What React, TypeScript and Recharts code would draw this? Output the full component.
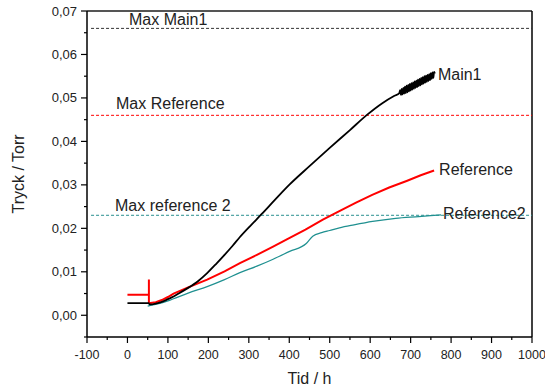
import React from 'react';
import { LineChart, Line, XAxis, YAxis, ReferenceLine, Label } from 'recharts';

// ---------- data ----------
const main1Hours = [
  0, 20, 40, 52, 55, 70, 85, 100, 114, 130, 150, 175, 197, 220, 240, 260, 278, 305, 332, 365, 401, 450, 500,
  550, 592, 630, 660, 672, 674, 676, 678, 680, 682, 684, 686, 688, 690, 692, 694, 696, 698, 700, 702, 704,
  706, 708, 710, 712, 714, 716, 718, 720, 722, 724, 726, 728, 730, 732, 734, 736, 738, 740, 742, 744, 746,
  748, 750, 752, 754, 756, 758, 760,
];
const main1Torr = [
  0.0028, 0.0028, 0.0028, 0.0028, 0.0025, 0.0027, 0.0031, 0.0037, 0.0043, 0.0052, 0.0063, 0.0079, 0.0097,
  0.0119, 0.0139, 0.016, 0.018, 0.0207, 0.0233, 0.0266, 0.0301, 0.0343, 0.0385, 0.0426, 0.0461, 0.0488,
  0.0505, 0.0511, 0.0518, 0.0507, 0.0521, 0.0508, 0.0523, 0.051, 0.0526, 0.0511, 0.0528, 0.0513, 0.053,
  0.0515, 0.0532, 0.0517, 0.0534, 0.0519, 0.0536, 0.0521, 0.0538, 0.0523, 0.054, 0.0525, 0.0542, 0.0527,
  0.0544, 0.0529, 0.0546, 0.0531, 0.0548, 0.0533, 0.055, 0.0535, 0.0551, 0.0537, 0.0553, 0.0539, 0.0555,
  0.0541, 0.0557, 0.0544, 0.0559, 0.0546, 0.056, 0.0556,
];

const refHours = [0, 53, 53, 53, 57, 70, 85, 100, 114, 150, 197, 240, 278, 320, 360, 401, 440, 483, 525, 565, 605, 647, 690, 725, 758];
const refTorr = [
  0.0047, 0.0047, 0.0082, 0.0029, 0.0028, 0.003, 0.0035, 0.0042, 0.005, 0.0064, 0.0082, 0.0101, 0.012, 0.0139,
  0.0158, 0.0178, 0.0197, 0.022, 0.024, 0.0259, 0.0277, 0.0294, 0.0309, 0.0322, 0.0333,
];

const ref2Hours = [50, 60, 80, 100, 114, 150, 197, 240, 278, 320, 360, 401, 442, 458, 480, 500, 524, 560, 606, 663, 720, 775];
const ref2Torr = [
  0.0021, 0.0023, 0.0027, 0.0033, 0.0038, 0.0051, 0.0066, 0.0082, 0.0098, 0.0113, 0.0129, 0.0147, 0.0165,
  0.0182, 0.019, 0.0195, 0.0201, 0.0208, 0.0216, 0.0223, 0.0227, 0.0231,
];

const maxHours = [-90, 1000];
const maxMain1 = 0.066;
const maxReference = 0.046;
const maxReference2 = 0.023;

const xTicks = [-100, -50, 0, 50, 100, 150, 200, 250, 300, 350, 400, 450, 500, 550, 600, 650, 700, 750, 800, 850, 900, 950, 1000];
const yTicks = [-0.005, 0, 0.005, 0.01, 0.015, 0.02, 0.025, 0.03, 0.035, 0.04, 0.045, 0.05, 0.055, 0.06, 0.065, 0.07];

// ---------- build series ----------
const toSeries = (hours: number[], vals: number[]) => hours.map((t, i) => ({ t, v: vals[i] }));
const main1Data = toSeries(main1Hours, main1Torr);
const refData = toSeries(refHours, refTorr);
const ref2Data = toSeries(ref2Hours, ref2Torr);
const maxMain1Data = maxHours.map((t) => ({ t, v: maxMain1 }));
const maxRefData = maxHours.map((t) => ({ t, v: maxReference }));
const maxRef2Data = maxHours.map((t) => ({ t, v: maxReference2 }));

// ---------- styling ----------
const FONT = '"Liberation Sans", Arial, Helvetica, sans-serif';
const W = 545;
const H = 389;
const Y_AXIS_W = 87;
const X_AXIS_H = 52;
const MARGIN = { top: 11, right: 13, bottom: 0, left: 0 };
const PLOT_LEFT = MARGIN.left + Y_AXIS_W;
const PLOT_BOTTOM = H - MARGIN.bottom - X_AXIS_H;
const TEAL = '#1f9090';
const RED = '#ff0000';

const YTick = (props: any) => {
  const { y, payload } = props;
  const v = payload.value as number;
  const k = Math.round(v * 200);
  const major = k % 2 === 0 && k >= 0;
  return (
    <g>
      <line x1={PLOT_LEFT - (major ? 6 : 3)} x2={PLOT_LEFT} y1={y} y2={y} stroke="#000" strokeWidth={1.2} />
      {major && (
        <text x={PLOT_LEFT - 10} y={y} dy="0.35em" textAnchor="end" fontSize={13} fontFamily={FONT} fill="#222">
          {v.toFixed(2).replace('.', ',')}
        </text>
      )}
    </g>
  );
};

const XTick = (props: any) => {
  const { x, payload } = props;
  const v = payload.value as number;
  const major = Math.round(v) % 100 === 0;
  return (
    <g>
      <line x1={x} x2={x} y1={PLOT_BOTTOM} y2={PLOT_BOTTOM + (major ? 6 : 3)} stroke="#000" strokeWidth={1.2} />
      {major && (
        <text x={x} y={PLOT_BOTTOM + 22} textAnchor="middle" fontSize={12.5} fontFamily={FONT} fill="#222">
          {String(v)}
        </text>
      )}
    </g>
  );
};

const pointLabel = (text: string, index: number, dx: number, dy: number) => (props: any) => {
  if (props.index !== index) return null;
  return (
    <text x={props.x + dx} y={props.y + dy} fontSize={16} fontFamily={FONT} fill="#222">
      {text}
    </text>
  );
};

export default function App() {
  return (
    <div style={{ position: 'absolute', left: 0, top: 0 }}>
      <LineChart width={W} height={H} margin={MARGIN}>
        <XAxis
          type="number"
          dataKey="t"
          domain={[-100, 1000]}
          ticks={xTicks}
          interval={0}
          allowDataOverflow
          height={X_AXIS_H}
          tickLine={false}
          axisLine={{ stroke: '#000', strokeWidth: 1.5 }}
          tick={(p: any) => <XTick {...p} />}
        >
          <Label value="Tid / h" position="insideBottom" offset={5} fontSize={16} fontFamily={FONT} fill="#222" />
        </XAxis>
        <YAxis
          type="number"
          dataKey="v"
          domain={[-0.005, 0.07]}
          ticks={yTicks}
          interval={0}
          allowDataOverflow
          width={Y_AXIS_W}
          tickLine={false}
          axisLine={{ stroke: '#000', strokeWidth: 1.5 }}
          tick={(p: any) => <YTick {...p} />}
        >
          <Label
            content={() => (
              <text transform="rotate(-90)" x={-(MARGIN.top + PLOT_BOTTOM) / 2} y={24} textAnchor="middle" fontSize={16} fontFamily={FONT} fill="#222">
                Tryck / Torr
              </text>
            )}
          />
        </YAxis>
        <ReferenceLine y={0.07} stroke="#555" strokeWidth={2} />
        <ReferenceLine x={1000} stroke="#000" strokeWidth={1.5} />

        <Line data={maxMain1Data} dataKey="v" stroke="#333" strokeWidth={1} strokeDasharray="3 2" dot={false} activeDot={false} isAnimationActive={false} label={pointLabel('Max Main1', 0, 38, -3)} />
        <Line data={maxRefData} dataKey="v" stroke="#ff0000" strokeWidth={1} strokeDasharray="3 2" dot={false} activeDot={false} isAnimationActive={false} label={pointLabel('Max Reference', 0, 25, -6)} />
        <Line data={maxRef2Data} dataKey="v" stroke="#2a8f8f" strokeWidth={1} strokeDasharray="3 2" dot={false} activeDot={false} isAnimationActive={false} label={pointLabel('Max reference 2', 0, 24, -4)} />

        <Line data={ref2Data} dataKey="v" type="monotone" stroke={TEAL} strokeWidth={1.2} dot={false} activeDot={false} isAnimationActive={false} label={pointLabel('Reference2', ref2Data.length - 1, 2, 4)} />
        <Line data={refData} dataKey="v" stroke={RED} strokeWidth={2} dot={false} activeDot={false} isAnimationActive={false} label={pointLabel('Reference', refData.length - 1, 5, 4)} />
        <Line data={main1Data} dataKey="v" type="monotone" stroke="#000" strokeWidth={1.8} dot={false} activeDot={false} isAnimationActive={false} label={pointLabel('Main1', main1Data.length - 1, 3, 6)} />
      </LineChart>
    </div>
  );
}
